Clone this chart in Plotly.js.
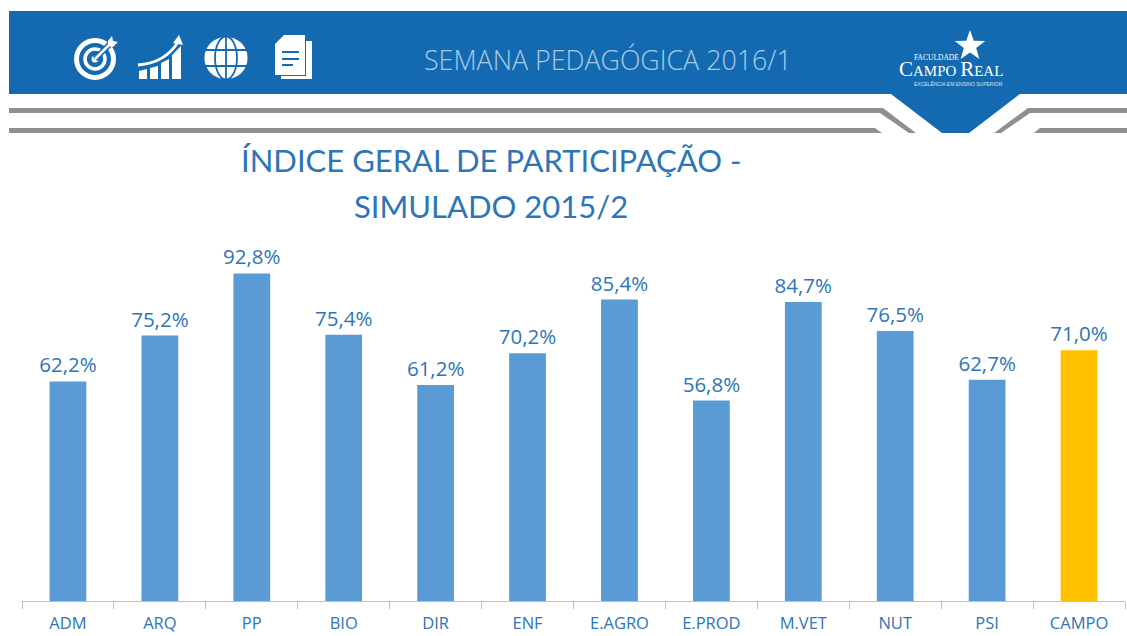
<!DOCTYPE html>
<html><head><meta charset="utf-8">
<script src="https://cdn.plot.ly/plotly-3.0.1.min.js"></script>
<style>html,body{margin:0;padding:0;background:#fff;overflow:hidden}#c{width:1127px;height:636px}</style>
</head><body><div id="c"></div>
<script>
const categories = ['ADM','ARQ','PP','BIO','DIR','ENF','E.AGRO','E.PROD','M.VET','NUT','PSI','CAMPO'];
const values = [62.2,75.2,92.8,75.4,61.2,70.2,85.4,56.8,84.7,76.5,62.7,71.0];
const highlighted = 'CAMPO';

const W = 1127, H = 636;
const BLUE = '#136AB0', BAR = '#5B9BD5', GOLD = '#FFC000', TXT = '#2E75B6', WHITE = '#FFFFFF';
const fx = x => x / W, fy = y => 1 - y / H;
const conv = d => d.replace(/(-?[\d.]+),(-?[\d.]+)/g, (m, a, b) => fx(+a).toFixed(5) + ',' + fy(+b).toFixed(5));
const path = (d, fill, stroke, width, extra) => Object.assign({type:'path', xref:'paper', yref:'paper', path:conv(d),
  fillcolor:fill || 'rgba(0,0,0,0)', line:{color:stroke || 'rgba(0,0,0,0)', width:width || 0}, layer:'above'}, extra || {});
const ell = (cx, cy, rx, ry, fill, stroke, width) => ({type:'circle', xref:'paper', yref:'paper',
  x0:fx(cx-rx), x1:fx(cx+rx), y0:fy(cy+ry), y1:fy(cy-ry),
  fillcolor:fill || 'rgba(0,0,0,0)', line:{color:stroke || 'rgba(0,0,0,0)', width:width || 0}, layer:'above'});

function starPath(cx, cy, R, r) {
  let d = '';
  for (let i = 0; i < 10; i++) {
    const a = -Math.PI/2 + i*Math.PI/5, q = i % 2 ? r : R;
    d += (i ? 'L' : 'M') + (cx + q*Math.cos(a)).toFixed(1) + ',' + (cy + q*Math.sin(a)).toFixed(1) + ' ';
  }
  return d + 'Z';
}

const GREY = '#8F8F8F';
const shapes = [
  path('M9,11 L1127,11 L1127,94 L1020,94 L969,133 L942,133 L891,94 L9,94 Z', BLUE),
  path('M9,108 L883,108 L916,133 L909,133 L880,113 L9,113 Z', GREY),
  path('M9,128 L875,128 L882,133 L9,133 Z', GREY),
  path('M1127,108 L1028,108 L994,133 L1001,133 L1030,113 L1127,113 Z', GREY),
  path('M1127,128 L1040,128 L1034,133 L1127,133 Z', GREY),
  ell(95,59,18.5,18.5,null,WHITE,5),
  ell(95,59,10,10,null,WHITE,3.5),
  ell(95,59,3.5,3.5,WHITE),
  path('M95,59 L111,43', null, BLUE, 6),
  path('M95,59 L111,43', null, WHITE, 2.5),
  path('M108,41 L112,36 L113,41 L118,42 L113,47 L108,46 Z', WHITE),
  path('M139,71 L147,69 L147,79 L139,79 Z', WHITE),
  path('M150,68 L158,66 L158,79 L150,79 Z', WHITE),
  path('M161,63 L169,59 L169,79 L161,79 Z', WHITE),
  path('M172,55 L181,46 L181,79 L172,79 Z', WHITE),
  path('M138,66 Q165,64 178,42', null, BLUE, 6),
  path('M138,65 Q165,63 178,42', null, WHITE, 2.8),
  path('M173,43 L179,35 L183,45 Z', WHITE),
  ell(226,58,22,21.5,WHITE),
  path('M204,50 L248,50 M204,66 L248,66 M226,36 L226,80', null, BLUE, 1.8),
  ell(226,58,11,21.5,null,BLUE,1.8),
  ell(226,58,22,21.5,null,BLUE,0.8),
  path('M281,41 L312,41 L312,79 L281,79 Z', WHITE),
  path('M279,38 L306,38 L306,76 L279,76 Z', BLUE),
  path('M284,35 L305,35 L305,75 L275,75 L275,44 Z', WHITE),
  path('M282,52 L299,52 M282,59 L299,59 M282,65 L293,65', null, BLUE, 2.2),
  path(starPath(970,46,16,6.5), WHITE)
];

const annotations = [
  {text:'SEMANA PEDAGÓGICA 2016/1', x:fx(608), y:fy(60), font:{family:'Open Sans', size:26.8, weight:300, color:'#A9CBE6'}},
  {text:'FACULDADE', x:fx(936), y:fy(57), font:{family:'Liberation Serif', size:7.5, color:WHITE}},
  {text:"<span style='font-size:21px'>C</span>AMPO <span style='font-size:21px'>R</span>EAL", x:fx(951), y:fy(69), font:{family:'Liberation Serif', size:15, color:WHITE}},
  {text:'EXCELÊNCIA EM ENSINO SUPERIOR', x:fx(958), y:fy(84), font:{family:'Liberation Sans', size:5, color:'#D5E5F2'}},
  {text:'ÍNDICE GERAL DE PARTICIPAÇÃO -', x:fx(491), y:fy(160), font:{family:'Lato', size:31, color:TXT}},
  {text:'SIMULADO 2015/2', x:fx(491), y:fy(206), font:{family:'Lato', size:31, color:TXT}}
].map(a => Object.assign({xref:'paper', yref:'paper', xanchor:'center', yanchor:'middle', showarrow:false}, a));

Plotly.newPlot('c', [{
  type:'bar', x:categories, y:values,
  marker:{color:categories.map(c => c === highlighted ? GOLD : BAR), line:{width:0}},
  texttemplate:'%{y:.1f}%', textposition:'outside', cliponaxis:false, constraintext:'none',
  textfont:{family:'Open Sans', size:20.5, color:TXT}, hoverinfo:'skip'
}], {
  width:W, height:H, margin:{l:0,r:0,t:0,b:0,pad:0}, autosize:false,
  paper_bgcolor:WHITE, plot_bgcolor:WHITE, showlegend:false, bargap:0.6, separators:',.',
  font:{family:'Open Sans'},
  xaxis:{domain:[22/W, 1125/W], type:'category', tickson:'boundaries', ticks:'outside', ticklen:7, tickwidth:1,
    tickcolor:'#BFBFBF', showline:true, linecolor:'#BFBFBF', linewidth:1, showgrid:false, zeroline:false,
    tickfont:{family:'Open Sans', size:16.5, color:TXT}, tickangle:0, ticklabelstandoff:7},
  yaxis:{domain:[35/H, 388/H], range:[0,100], visible:false, showgrid:false, zeroline:false},
  shapes, annotations
}, {displayModeBar:false, staticPlot:true});
</script></body></html>
